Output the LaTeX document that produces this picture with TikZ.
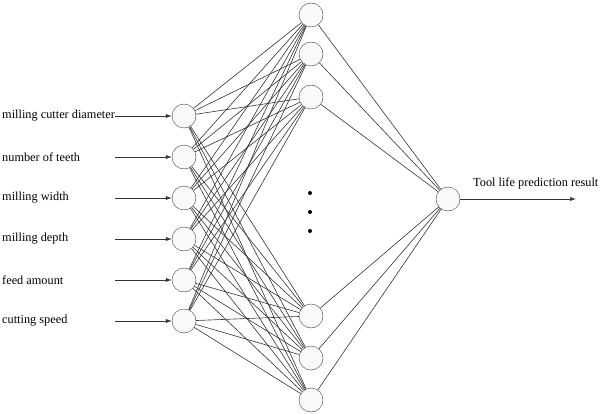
\documentclass[tikz,border=0pt]{standalone}
\usepackage{fontspec}
\setmainfont{Liberation Serif}
\usetikzlibrary{arrows.meta}
\begin{document}
\begin{tikzpicture}[
x=1pt, y=-1pt,
neuron/.style={circle, draw=black!75, fill=gray!5, minimum size=24pt, inner sep=0pt},
link/.style={draw=black!80, line width=0.6pt},
arrow/.style={link, -{Latex[length=6pt,width=4pt]}},
txt/.style={font=\fontsize{12.3}{14}\selectfont, inner sep=0pt, anchor=west},
dot/.style={circle, fill=black, minimum size=4pt, inner sep=0pt}
]
\useasboundingbox (0,0) rectangle (604,414);

% input layer
\node[neuron] (i1) at (184,116) {};
\node[neuron] (i2) at (184,157) {};
\node[neuron] (i3) at (184,198) {};
\node[neuron] (i4) at (184,239) {};
\node[neuron] (i5) at (184,280) {};
\node[neuron] (i6) at (184,321) {};

% hidden layer
\node[neuron] (h1) at (311,15) {};
\node[neuron] (h2) at (311,54) {};
\node[neuron] (h3) at (311,97) {};
\node[neuron] (h4) at (311,316) {};
\node[neuron] (h5) at (311,358) {};
\node[neuron] (h6) at (311,400) {};
\node[dot] (d1) at (310,193) {};
\node[dot] (d2) at (310,212) {};
\node[dot] (d3) at (310,231) {};

% output layer
\node[neuron] (o) at (448,199) {};

% inputs
\node[txt] (l1) at (2,116) {milling cutter diameter};
\node[txt] (l2) at (2,157) {number of teeth};
\node[txt] (l3) at (2,198) {milling width};
\node[txt] (l4) at (2,239) {milling depth};
\node[txt] (l5) at (2,280) {feed amount};
\node[txt] (l6) at (2,321) {cutting speed};
\foreach \i in {1,...,6}{
    \coordinate (s\i) at (115,{75+41*\i});
    \draw[arrow] (s\i) -- (i\i);
}

% output
\node[txt] (r) at (473,183) {Tool life prediction result};
\coordinate (e) at (576,199);
\draw[arrow] (o) -- (e);

% weights
\foreach \i in {1,...,6}{
    \foreach \j in {1,...,6}{
        \draw[link] (i\i) -- (h\j);
    }
    \draw[link] (h\i) -- (o);
}
\end{tikzpicture}
\end{document}
